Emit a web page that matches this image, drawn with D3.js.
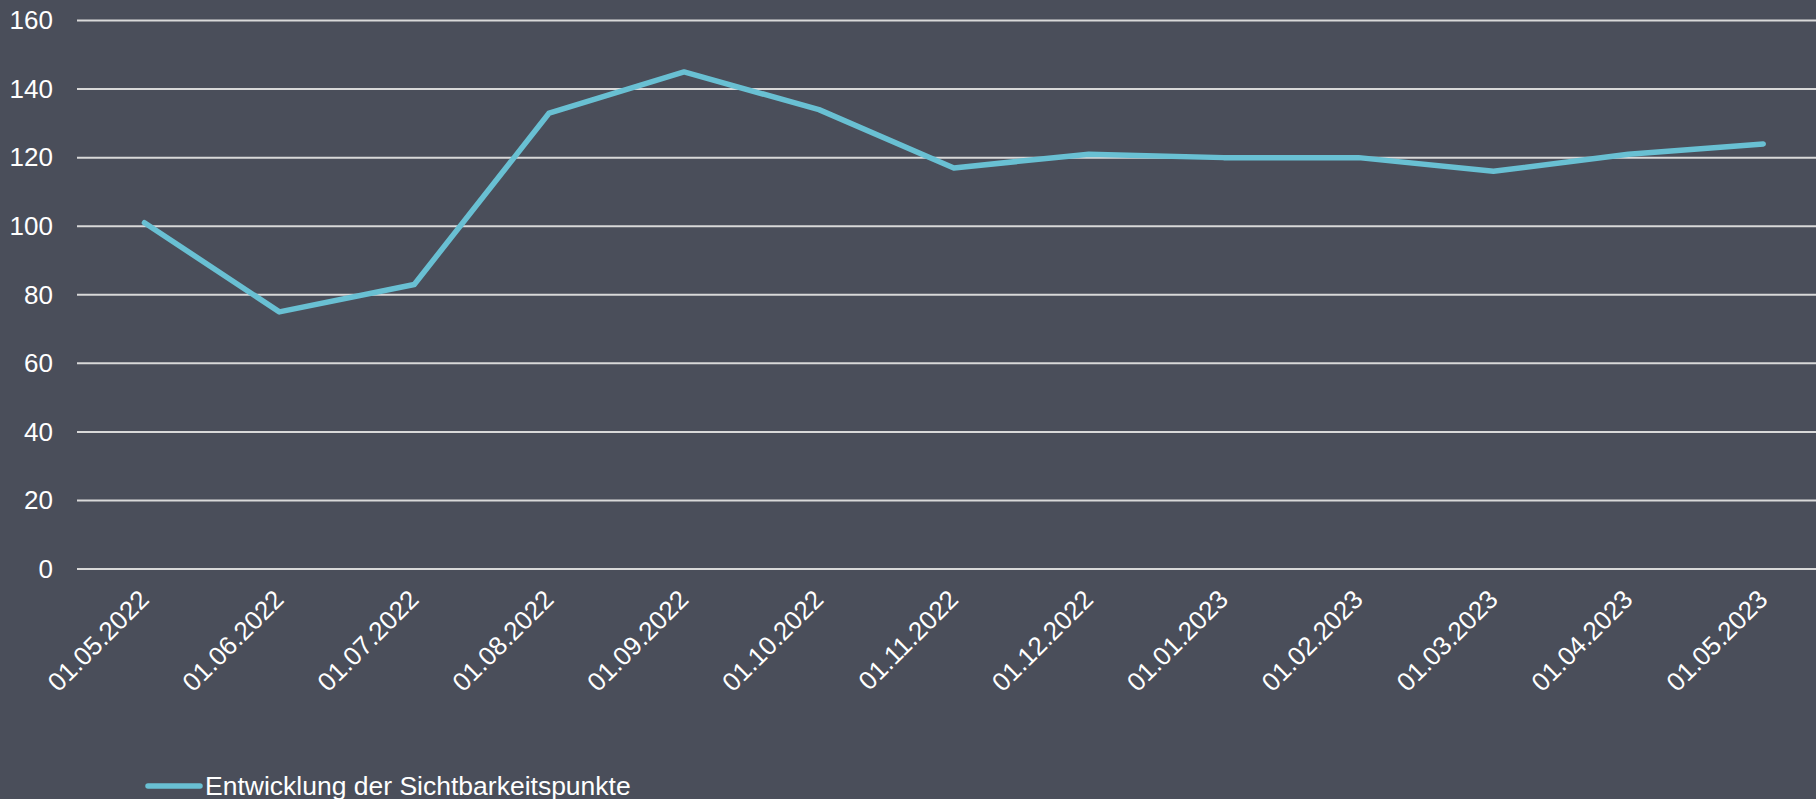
<!DOCTYPE html>
<html>
<head>
<meta charset="utf-8">
<script src="https://cdn.jsdelivr.net/npm/d3@7"></script>
<style>
  html, body { margin: 0; padding: 0; background: #4a4e5a; overflow: hidden; }
  svg { display: block; font-family: "Liberation Sans", Arial, sans-serif; }
  .tick text { fill: #ffffff; }
</style>
</head>
<body>
<script>
var width = 1816;
var height = 799;

// data
var dates = ["01.05.2022", "01.06.2022", "01.07.2022", "01.08.2022", "01.09.2022", "01.10.2022",
    "01.11.2022", "01.12.2022", "01.01.2023", "01.02.2023", "01.03.2023", "01.04.2023", "01.05.2023"];
var points = [101, 75, 83, 133, 145, 134, 117, 121, 120, 120, 116, 121, 124];
var yTicks = [0, 20, 40, 60, 80, 100, 120, 140, 160];
var seriesName = "Entwicklung der Sichtbarkeitspunkte";

var svg = d3.select("body").append("svg")
    .attr("width", width)
    .attr("height", height);

svg.append("rect")
    .attr("width", width)
    .attr("height", height)
    .attr("fill", "#4a4e5a");

// plot area runs past the right edge, as in the reference
var left = 77;
var band = 134.9;
var x = d3.scaleBand()
    .domain(dates)
    .range([left, left + band * dates.length]);

var y = d3.scaleLinear()
    .domain([0, 160])
    .range([569, 20.5]);

// gridlines
svg.append("g")
    .selectAll("line")
    .data(yTicks)
    .enter()
    .append("line")
    .attr("x1", left)
    .attr("x2", width)
    .attr("y1", function(d) { return y(d); })
    .attr("y2", function(d) { return y(d); })
    .attr("stroke", "#d9d9d9")
    .attr("stroke-width", 2);

// y axis labels
var yAxis = d3.axisLeft(y)
    .tickValues(yTicks)
    .tickSize(0)
    .tickPadding(24);

svg.append("g")
    .attr("transform", "translate(" + left + ",0)")
    .call(yAxis)
    .call(function(g) { g.select(".domain").remove(); })
    .selectAll("text")
    .attr("font-size", "26px")
    .attr("font-family", "Liberation Sans, Arial, sans-serif");

// x axis labels, rotated
var xAxis = d3.axisBottom(x)
    .tickSize(0)
    .tickPadding(0);

svg.append("g")
    .attr("transform", "translate(0,569)")
    .call(xAxis)
    .call(function(g) { g.select(".domain").remove(); })
    .selectAll("text")
    .attr("font-size", "26px")
    .attr("font-family", "Liberation Sans, Arial, sans-serif")
    .attr("dy", null)
    .attr("y", 0)
    .attr("text-anchor", "end")
    .attr("transform", "translate(6,32) rotate(-45)");

// the line
var line = d3.line()
    .x(function(d, i) { return x(dates[i]) + x.bandwidth() / 2; })
    .y(function(d) { return y(d); });

svg.append("path")
    .datum(points)
    .attr("d", line)
    .attr("fill", "none")
    .attr("stroke", "#69c0d3")
    .attr("stroke-width", 5.5)
    .attr("stroke-linejoin", "round")
    .attr("stroke-linecap", "round");

// legend
var legend = svg.append("g")
    .attr("transform", "translate(148,786)");

legend.append("line")
    .attr("x1", 0)
    .attr("x2", 52)
    .attr("stroke", "#69c0d3")
    .attr("stroke-width", 5.5)
    .attr("stroke-linecap", "round");

legend.append("text")
    .attr("x", 57)
    .attr("y", 9)
    .attr("fill", "#ffffff")
    .attr("font-size", "26.5px")
    .text(seriesName);
</script>
</body>
</html>
